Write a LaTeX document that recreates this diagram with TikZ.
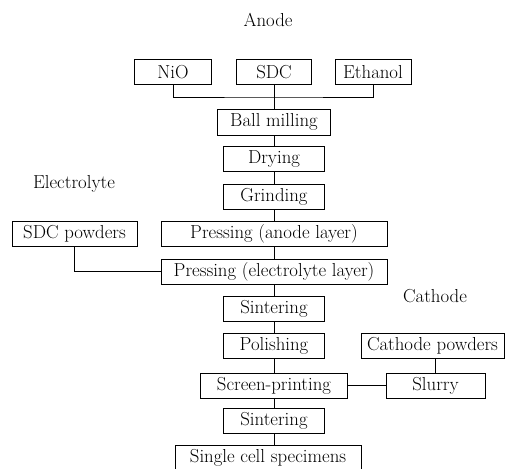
\documentclass[tikz,border=0pt]{standalone}
\usepackage{tikz}
\tikzset{
  stage/.style={draw, line width=0.8pt, minimum height=25pt, inner sep=0pt, font=\fontsize{18.8}{22}\selectfont},
  title/.style={font=\fontsize{18.8}{22}\selectfont},
}
\def\lnk{\draw[line width=0.8pt]}

\begin{document}
\begin{tikzpicture}[x=1pt,y=-1pt]
\useasboundingbox (0,0) rectangle (505,468);
\node[title] (anode) at (268,20) {Anode};
\node[title] (elyte) at (74,184) {Electrolyte};
\node[title] (cathode) at (435,296) {Cathode};
\node[stage, minimum width=77pt] (nio) at (173,72) {NiO};
\node[stage, minimum width=75pt] (sdc) at (274,72) {SDC};
\node[stage, minimum width=76pt] (eth) at (373,72) {Ethanol};
\coordinate (junc) at (274,97);
\node[stage, minimum width=113pt, minimum height=26pt] (ball) at (274,122) {Ball milling};
\node[stage, minimum width=101pt] (dry) at (274,159) {Drying};
\node[stage, minimum width=101pt] (grind) at (274,196.5) {Grinding};
\node[stage, minimum width=226pt] (pan) at (274,234) {Pressing (anode layer)};
\node[stage, minimum width=125pt] (sdcp) at (74.5,234) {SDC powders};
\node[stage, minimum width=226pt] (pel) at (274,271.5) {Pressing (electrolyte layer)};
\node[stage, minimum width=101pt] (sint) at (274,308.5) {Sintering};
\node[stage, minimum width=101pt] (pol) at (274,346) {Polishing};
\node[stage, minimum width=147pt] (screen) at (274,385.5) {Screen-printing};
\node[stage, minimum width=143pt] (catp) at (432.5,346) {Cathode powders};
\node[stage, minimum width=99pt] (slurry) at (435.5,385.5) {Slurry};
\node[stage, minimum width=101pt] (sinttwo) at (274,420.5) {Sintering};
\node[stage, minimum width=186pt] (cell) at (268,458) {Single cell specimens};
\lnk (nio.south) |- (junc) -| (eth.south);
\lnk (sdc.south) -- (ball.north);
\foreach \a/\b in {ball/dry, dry/grind, grind/pan, pan/pel, pel/sint, sint/pol, pol/screen, screen/sinttwo}
  \lnk (\a.south) -- (\b.north);
\lnk (sinttwo.south) -- (sinttwo.south |- cell.north);
\lnk (sdcp.south) |- (pel.west);
\lnk (slurry.north) -- (slurry.north |- catp.south);
\lnk (slurry.west) -- (screen.east);
\end{tikzpicture}
\end{document}
